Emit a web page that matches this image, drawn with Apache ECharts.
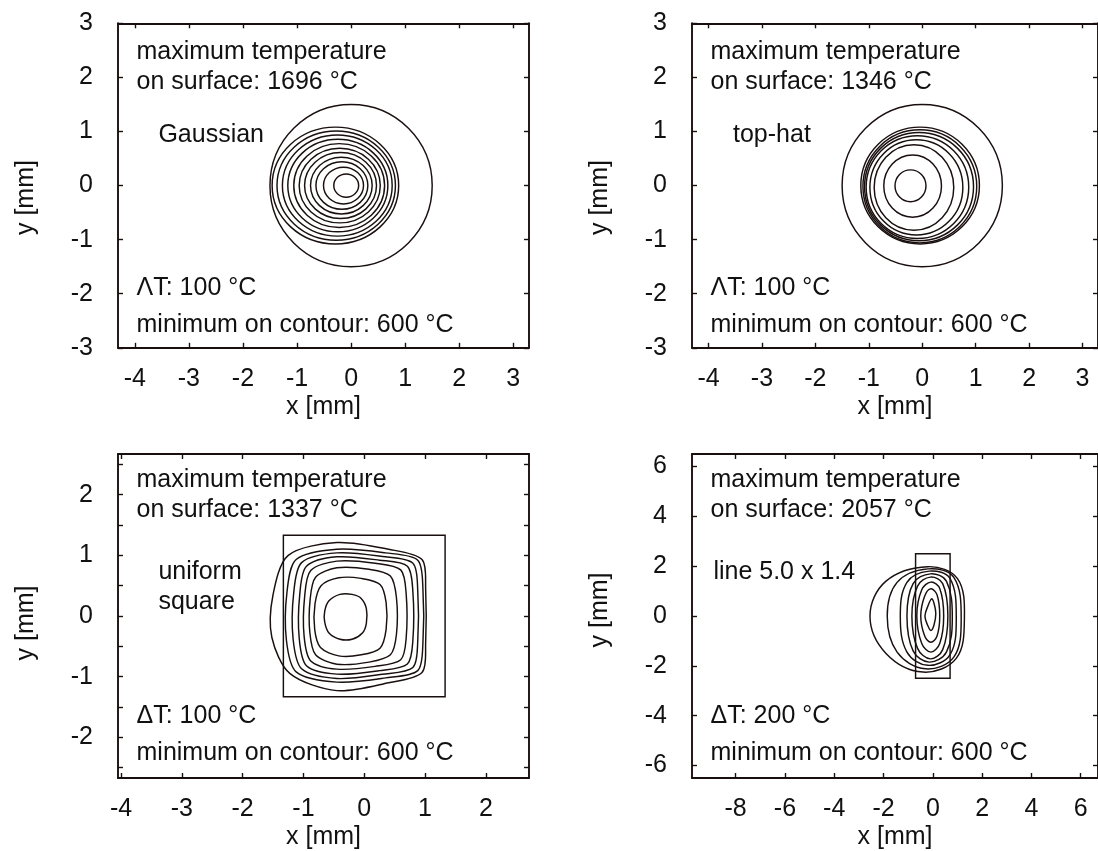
<!DOCTYPE html>
<html><head><meta charset="utf-8">
<script src="https://cdn.jsdelivr.net/npm/echarts@6/dist/echarts.min.js"></script>
<style>html,body{margin:0;padding:0;background:#fff}#c{width:1098px;height:851px}</style>
</head><body><div id="c"></div>
<script>
// ---------------- data ----------------
const panelLabels = ['Gaussian', 'top-hat', 'uniform\nsquare', 'line 5.0 x 1.4'];
const maxTemps = [1696, 1346, 1337, 2057];
const deltaSymbols = ['\u039B', '\u039B', '\u0394', '\u0394'];
const deltaT = [100, 100, 100, 200];
const minContour = [600, 600, 600, 600];

// axis extents [min, max]
const p1XRange = [-4.31, 3.29], p1YRange = [-3, 3];
const p2XRange = [-4.31, 3.29], p2YRange = [-3, 3];
const p3XRange = [-4.05, 2.71], p3YRange = [-2.67, 2.67];
const p4XRange = [-9.77, 6.70], p4YRange = [-6.5, 6.5];

// tick marks and tick labels
const p1XTicks = [-4, -3, -2, -1, 0, 1, 2, 3];
const p1YTicks = [-3, -2, -1, 0, 1, 2, 3];
const p2XTicks = [-4, -3, -2, -1, 0, 1, 2, 3];
const p2YTicks = [-3, -2, -1, 0, 1, 2, 3];
const p3XTicks = [-4, -3, -2, -1, 0, 1, 2];
const p3YTicks = [-2.5, -2, -1.5, -1, -0.5, 0, 0.5, 1, 1.5, 2, 2.5];
const p3YLabels = [-2, -1, 0, 1, 2];
const p4XTicks = [-8, -6, -4, -2, 0, 2, 4, 6];
const p4YTicks = [-6, -4, -2, 0, 2, 4, 6];

// beam outlines
const gaussBeam = [0, 0, 1.5, 1.5];       // circle cx, cy, r, r
const topHatBeam = [0, 0, 1.5, 1.5];
const squareSource = [-1.33, -1.33, 1.33, 1.33]; // x0, y0, x1, y1
const lineSource = [-0.7, -2.5, 0.7, 2.5];

// isotherms of panel 1 (600..1600 °C): [cx, cy, rx, ry]
const gaussContours = [
  [-0.29, 0, 1.17, 1.08],
  [-0.275, 0, 1.095, 1.01],
  [-0.255, 0, 1.015, 0.935],
  [-0.245, 0, 0.925, 0.855],
  [-0.22, 0, 0.84, 0.775],
  [-0.21, 0, 0.75, 0.69],
  [-0.195, 0, 0.665, 0.61],
  [-0.18, 0, 0.57, 0.525],
  [-0.17, 0, 0.48, 0.44],
  [-0.14, 0, 0.37, 0.34],
  [-0.09, 0, 0.23, 0.215]
];
// isotherms of panel 2 (600..1300 °C): [cx, cy, rx, ry]
const topHatContours = [
  [-0.04, 0.0, 1.11, 1.08],
  [-0.045, -0.015, 1.065, 1.045],
  [-0.06, -0.02, 1.02, 1.0],
  [-0.09, -0.03, 0.96, 0.95],
  [-0.11, -0.035, 0.87, 0.88],
  [-0.155, -0.035, 0.745, 0.79],
  [-0.18, -0.01, 0.54, 0.575],
  [-0.22, -0.005, 0.29, 0.295]
];
// isotherms of panel 3 (600..1300 °C), 12 points each, counter-clockwise from the right edge
const squareContours = [
  [[1.01, 0.45], [0.95, 0.93], [0.40, 1.10], [-0.45, 1.21], [-1.25, 1.0], [-1.50, 0.35], [-1.52, -0.35], [-1.22, -0.95], [-0.45, -1.23], [0.40, -1.10], [0.95, -0.93], [1.01, -0.45]],
  [[0.965, 0.45], [0.88, 0.92], [0.35, 1.04], [-0.45, 1.10], [-1.12, 0.93], [-1.27, 0.40], [-1.28, -0.40], [-1.12, -0.92], [-0.45, -1.09], [0.35, -1.02], [0.88, -0.90], [0.965, -0.45]],
  [[0.88, 0.42], [0.80, 0.87], [0.30, 0.98], [-0.45, 1.04], [-1.03, 0.88], [-1.16, 0.38], [-1.17, -0.38], [-1.03, -0.87], [-0.45, -1.03], [0.30, -0.96], [0.80, -0.85], [0.88, -0.42]],
  [[0.80, 0.40], [0.71, 0.82], [0.25, 0.92], [-0.45, 0.975], [-0.95, 0.82], [-1.06, 0.36], [-1.07, -0.36], [-0.95, -0.82], [-0.45, -0.958], [0.25, -0.90], [0.71, -0.79], [0.80, -0.40]],
  [[0.69, 0.36], [0.60, 0.76], [0.18, 0.87], [-0.45, 0.904], [-0.88, 0.75], [-0.98, 0.32], [-0.99, -0.32], [-0.88, -0.74], [-0.45, -0.876], [0.18, -0.83], [0.60, -0.72], [0.69, -0.36]],
  [[0.53, 0.30], [0.43, 0.66], [0.08, 0.77], [-0.45, 0.794], [-0.80, 0.64], [-0.89, 0.27], [-0.895, -0.27], [-0.80, -0.64], [-0.45, -0.794], [0.08, -0.76], [0.43, -0.64], [0.53, -0.30]],
  [[0.36, 0.22], [0.26, 0.52], [-0.05, 0.62], [-0.42, 0.63], [-0.71, 0.50], [-0.81, 0.20], [-0.815, -0.22], [-0.72, -0.52], [-0.42, -0.657], [-0.05, -0.64], [0.26, -0.53], [0.36, -0.22]],
  [[0.035, 0.12], [-0.05, 0.29], [-0.20, 0.356], [-0.40, 0.356], [-0.58, 0.25], [-0.65, 0.08], [-0.65, -0.10], [-0.58, -0.28], [-0.40, -0.383], [-0.20, -0.383], [-0.03, -0.28], [0.035, -0.12]]
];
// isotherms of panel 4 (600..2000 °C, step 200): points E, NE, N, NW, W, SW, S, SE
const lineContours = [
  [[1.28, -0.1], [1.0, 1.5], [-0.2, 1.98], [-1.9, 1.4], [-2.55, 0.0], [-1.9, -1.5], [-0.4, -2.25], [0.95, -1.7]],
  [[1.15, -0.1], [0.85, 1.55], [-0.2, 1.89], [-1.45, 1.35], [-1.85, 0.0], [-1.45, -1.45], [-0.3, -2.12], [0.85, -1.65]],
  [[0.95, -0.1], [0.7, 1.5], [-0.15, 1.80], [-1.05, 1.35], [-1.32, 0.0], [-1.05, -1.45], [-0.2, -1.98], [0.7, -1.55]],
  [[0.79, -0.05], [0.55, 1.4], [-0.1, 1.69], [-0.8, 1.3], [-1.05, 0.0], [-0.8, -1.4], [-0.15, -1.85], [0.55, -1.45]],
  [[0.61, 0.0], [0.4, 1.3], [-0.1, 1.56], [-0.62, 1.2], [-0.85, 0.0], [-0.62, -1.3], [-0.1, -1.72], [0.4, -1.35]],
  [[0.44, 0.0], [0.28, 1.1], [-0.08, 1.36], [-0.45, 1.05], [-0.65, 0.0], [-0.45, -1.1], [-0.08, -1.45], [0.28, -1.1]],
  [[0.28, 0.0], [0.17, 0.85], [-0.08, 1.09], [-0.33, 0.8], [-0.49, 0.0], [-0.33, -0.8], [-0.08, -1.05], [0.17, -0.8]],
  [[0.12, 0.1], [0.05, 0.5], [-0.05, 0.69], [-0.2, 0.4], [-0.32, 0.0], [-0.22, -0.35], [-0.08, -0.58], [0.05, -0.35]]
];

// ---------------- layout / style ----------------
const INK = '#1a0f0f';
const TXT = '#111111';
const FONT = '"Liberation Sans", Arial, Helvetica, sans-serif';
const FS = 25;
const W = 411, H = 324.5;
const grids = [
  {left: 118, top: 23.3, width: W, height: H},
  {left: 692, top: 23.3, width: W, height: H},
  {left: 118, top: 454, width: W, height: H},
  {left: 692, top: 454, width: W, height: H}
];
const panels = [
  {xr: p1XRange, yr: p1YRange, xt: p1XTicks, xl: p1XTicks, yt: p1YTicks, yl: p1YTicks},
  {xr: p2XRange, yr: p2YRange, xt: p2XTicks, xl: p2XTicks, yt: p2YTicks, yl: p2YTicks},
  {xr: p3XRange, yr: p3YRange, xt: p3XTicks, xl: p3XTicks, yt: p3YTicks, yl: p3YLabels},
  {xr: p4XRange, yr: p4YRange, xt: p4XTicks, xl: p4XTicks, yt: p4YTicks, yl: p4YTicks}
];
// padding that moves each rotated y-axis title along the axis (right pad = downwards)
const yNamePad = [[0, 24, 0, 0], [0, 24, 0, 0], [0, 14, 0, 0], [0, 0, 0, 12]];

const lineStyle = {color: INK, width: 1.9};
const tickStyle = {color: INK, width: 1.4};
const labelStyle = {fontSize: FS, color: TXT, fontFamily: FONT};

const xAxes = [], yAxes = [];
panels.forEach((p, g) => {
  xAxes.push({
    type: 'value', gridIndex: g, position: 'bottom', min: p.xr[0], max: p.xr[1],
    axisLine: {show: true, onZero: false, lineStyle},
    axisTick: {show: true, inside: true, length: 5, customValues: p.xt, lineStyle: tickStyle},
    axisLabel: Object.assign({show: true, margin: 19, customValues: p.xl}, labelStyle),
    splitLine: {show: false},
    name: 'x [mm]', nameLocation: 'middle', nameGap: 47, nameTextStyle: labelStyle
  });
  xAxes.push({
    type: 'value', gridIndex: g, position: 'top', min: p.xr[0], max: p.xr[1],
    axisLine: {show: true, onZero: false, lineStyle},
    axisTick: {show: true, inside: true, length: 5, customValues: p.xt, lineStyle: tickStyle},
    axisLabel: {show: false}, splitLine: {show: false}
  });
  yAxes.push({
    type: 'value', gridIndex: g, position: 'left', min: p.yr[0], max: p.yr[1],
    axisLine: {show: true, onZero: false, lineStyle},
    axisTick: {show: true, inside: true, length: 5, customValues: p.yt, lineStyle: tickStyle},
    axisLabel: Object.assign({show: true, margin: 25, customValues: p.yl}, labelStyle),
    splitLine: {show: false},
    name: 'y [mm]', nameLocation: 'middle', nameGap: 79, nameRotate: 90,
    nameTextStyle: Object.assign({padding: yNamePad[g]}, labelStyle)
  });
  yAxes.push({
    type: 'value', gridIndex: g, position: 'right', min: p.yr[0], max: p.yr[1],
    axisLine: {show: true, onZero: false, lineStyle},
    axisTick: {show: true, inside: true, length: 5, customValues: p.yt, lineStyle: tickStyle},
    axisLabel: {show: false}, splitLine: {show: false}
  });
});

const contourStyle = {fill: 'none', stroke: INK, lineWidth: 1.45};

function ellipseSeries(g, data) {
  return {
    type: 'custom', xAxisIndex: 2 * g, yAxisIndex: 2 * g, data: data,
    encode: {x: 0, y: 1}, silent: true, animation: false,
    renderItem: function (params, api) {
      const c = api.coord([api.value(0), api.value(1)]);
      const s = api.size([api.value(2), api.value(3)]);
      return {type: 'ellipse', shape: {cx: c[0], cy: c[1], rx: s[0], ry: s[1]}, style: contourStyle};
    }
  };
}
function polySeries(g, contours, smooth) {
  const n = contours[0].length;
  return {
    type: 'custom', xAxisIndex: 2 * g, yAxisIndex: 2 * g,
    data: contours.map(function (c) { return c.flat(); }),
    encode: {x: 0, y: 1}, silent: true, animation: false,
    renderItem: function (params, api) {
      const pts = [];
      for (let k = 0; k < n; k++) pts.push(api.coord([api.value(2 * k), api.value(2 * k + 1)]));
      return {type: 'polygon', shape: {points: pts, smooth: smooth}, style: contourStyle};
    }
  };
}
function rectSeries(g, r) {
  return {
    type: 'custom', xAxisIndex: 2 * g, yAxisIndex: 2 * g, data: [r],
    encode: {x: 0, y: 1}, silent: true, animation: false,
    renderItem: function (params, api) {
      const a = api.coord([api.value(0), api.value(3)]);
      const b = api.coord([api.value(2), api.value(1)]);
      return {type: 'rect', shape: {x: a[0], y: a[1], width: b[0] - a[0], height: b[1] - a[1]},
        style: {fill: 'none', stroke: INK, lineWidth: 1.45}};
    }
  };
}

const series = [
  ellipseSeries(0, [gaussBeam]),
  ellipseSeries(0, gaussContours),
  ellipseSeries(1, [topHatBeam]),
  ellipseSeries(1, topHatContours),
  rectSeries(2, squareSource),
  polySeries(2, squareContours, 0.3),
  rectSeries(3, lineSource),
  polySeries(3, lineContours, 0.37)
];

// ---------------- annotations ----------------
function txt(x, y, s) {
  return {type: 'text', x: x, y: y, silent: true,
    style: {text: s, fill: TXT, font: FS + 'px ' + FONT, align: 'left', verticalAlign: 'middle', lineHeight: 30}};
}
const textOffsets = [
  {top1: 28.4, top2: 58.4, lab: 111.7, bot1: 59.4, bot2: 22.7},
  {top1: 28.4, top2: 58.4, lab: 111.7, bot1: 59.4, bot2: 22.7},
  {top1: 26.2, top2: 56.2, lab: 132.7, bot1: 62.3, bot2: 25.7},
  {top1: 26.2, top2: 56.2, lab: 117.7, bot1: 62.3, bot2: 25.7}
];
const labelX = [40.4, 41, 40.4, 21.4];
const graphics = [];
grids.forEach(function (gr, i) {
  const o = textOffsets[i];
  const x0 = gr.left + 18.5;
  const bottom = gr.top + gr.height;
  graphics.push(txt(x0, gr.top + o.top1, 'maximum temperature'));
  graphics.push(txt(x0, gr.top + o.top2, 'on surface: ' + maxTemps[i] + ' \u00B0C'));
  graphics.push(txt(gr.left + labelX[i], gr.top + o.lab, panelLabels[i]));
  graphics.push(txt(x0, bottom - o.bot1, deltaSymbols[i] + 'T: ' + deltaT[i] + ' \u00B0C'));
  graphics.push(txt(x0, bottom - o.bot2, 'minimum on contour: ' + minContour[i] + ' \u00B0C'));
});

const chart = echarts.init(document.getElementById('c'), null, {renderer: 'canvas'});
chart.setOption({
  animation: false,
  backgroundColor: '#ffffff',
  grid: grids,
  xAxis: xAxes,
  yAxis: yAxes,
  series: series,
  graphic: graphics
});
</script>
</body></html>
